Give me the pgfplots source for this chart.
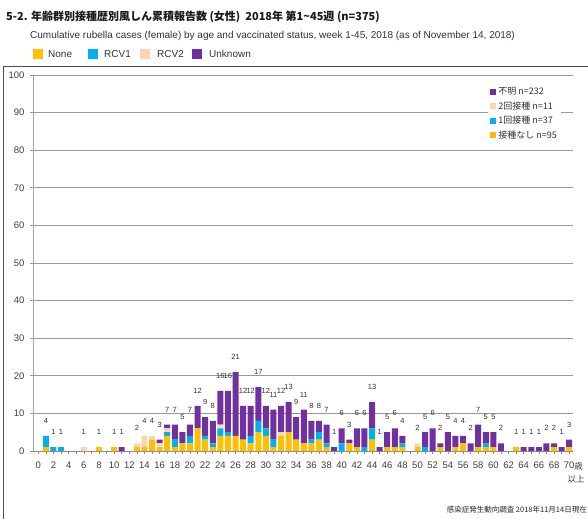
\documentclass[border=0pt]{standalone}
\usepackage{pgfplots}
\pgfplotsset{compat=1.18}
\usepackage{pgfplotstable}
\usepackage{fontspec}
\setmainfont{Liberation Sans}
\newfontfamily\jp{Noto Sans CJK JP}
\definecolor{cNone}{HTML}{FFC000}
\definecolor{cRa}{HTML}{00B0F0}
\definecolor{cRb}{HTML}{FCD5B5}
\definecolor{cUnk}{HTML}{7030A0}
\pgfplotstableread{
age none ra rb unk tot lab
0 0 0 0 0 0 {}
1 1 3 0 0 4 4
2 0 1 0 0 1 1
3 0 1 0 0 1 1
4 0 0 0 0 0 {}
5 0 0 0 0 0 {}
6 0 0 1 0 1 1
7 0 0 0 0 0 {}
8 1 0 0 0 1 1
9 0 0 0 0 0 {}
10 1 0 0 0 1 1
11 0 0 0 1 1 1
12 0 0 0 0 0 {}
13 1 0 1 0 2 2
14 1 0 3 0 4 4
15 3 0 1 0 4 4
16 1 0 1 1 3 3
17 4 1 1 1 7 7
18 1 2 0 4 7 7
19 2 0 0 3 5 5
20 2 2 0 3 7 7
21 6 0 0 6 12 12
22 3 1 0 5 9 9
23 1 1 0 6 8 8
24 4 2 1 9 16 16
25 4 1 0 11 16 16
26 4 0 0 17 21 21
27 3 0 0 9 12 12
28 2 2 0 8 12 12
29 5 3 0 9 17 17
30 4 2 0 6 12 12
31 1 2 0 8 11 11
32 4 0 1 7 12 12
33 5 0 0 8 13 13
34 3 0 0 6 9 9
35 2 0 0 9 11 11
36 2 1 0 5 8 8
37 3 2 0 3 8 8
38 1 1 0 5 7 7
39 0 0 0 1 1 1
40 0 2 0 4 6 6
41 2 0 0 1 3 3
42 1 0 0 5 6 6
43 0 1 0 5 6 6
44 3 3 0 7 13 13
45 0 0 0 1 1 1
46 1 0 0 4 5 5
47 1 0 0 5 6 6
48 1 1 0 2 4 4
49 0 0 0 0 0 {}
50 1 0 1 0 2 2
51 0 1 0 4 5 5
52 0 0 0 6 6 6
53 1 0 0 1 2 2
54 0 0 0 5 5 5
55 1 0 0 3 4 4
56 2 0 0 2 4 4
57 0 0 0 2 2 2
58 1 0 0 6 7 7
59 1 1 0 3 5 5
60 1 0 0 4 5 5
61 0 0 0 2 2 2
62 0 0 0 0 0 {}
63 1 0 0 0 1 1
64 0 0 0 1 1 1
65 0 0 0 1 1 1
66 0 0 0 1 1 1
67 0 0 0 2 2 2
68 1 0 0 1 2 2
69 0 0 0 1 1 1
70 1 0 0 2 3 3
}\datatable
\pgfplotsset{
  commonax/.style={
    at={(33bp,68bp)}, anchor=south west,
    width=540bp, height=376bp, scale only axis,
    xmin=-0.7, xmax=70.5, ymin=0, ymax=100,
  }
}
\begin{document}
\begin{tikzpicture}
\useasboundingbox (0,0) rectangle (588bp,519bp);
\clip (0,0) rectangle (588bp,519bp);
\fill[white] (0,0) rectangle (588bp,519bp);
\begin{scope}[x=1bp,y=1bp]
\node[anchor=west, inner sep=0pt, font=\jp\bfseries\fontsize{11bp}{13bp}\selectfont, text=black!90] at (6,502) {5-2. 年齢群別接種歴別風しん累積報告数 (女性)\ \ 2018年 第1\textasciitilde45週 (n=375)};
\node[anchor=west, inner sep=0pt, font=\fontsize{10bp}{12bp}\selectfont, text=black!80] at (30,483) {Cumulative rubella cases (female) by age and vaccinated status, week 1-45, 2018 (as of November 14, 2018)};
\fill[cNone] (33,460) rectangle (43,470);
\node[anchor=west, inner sep=0pt, font=\fontsize{10bp}{12bp}\selectfont, text=black!80] at (48,465) {None};
\fill[cRa] (88,460) rectangle (98,470);
\node[anchor=west, inner sep=0pt, font=\fontsize{10bp}{12bp}\selectfont, text=black!80] at (104,465) {RCV1};
\fill[cRb] (140,460) rectangle (150,470);
\node[anchor=west, inner sep=0pt, font=\fontsize{10bp}{12bp}\selectfont, text=black!80] at (157,465) {RCV2};
\fill[cUnk] (192,460) rectangle (202,470);
\node[anchor=west, inner sep=0pt, font=\fontsize{10bp}{12bp}\selectfont, text=black!80] at (209,465) {Unknown};
\draw[black!70, line width=1bp] (3,-10) rectangle (600,452);
\node[anchor=east, inner sep=0pt, font=\jp\fontsize{7.5bp}{9bp}\selectfont, text=black!85] at (587,9) {感染症発生動向調査 2018年11月14日現在};
\end{scope}
\begin{axis}[
  commonax,
  ybar stacked, bar width=6bp,
  clip=false,
  xtick={0,2,...,70}, minor xtick={0,...,70},
  ytick={0,10,...,100},
  ymajorgrids, grid style={draw=black!40, line width=0.9bp},
  axis x line*=bottom, axis y line*=left,
  x axis line style={draw=black!45, line width=0.9bp},
  y axis line style={draw=black!35, line width=0.9bp},
  tick align=outside,
  major tick length=3bp, minor tick length=3bp,
  xtick style={draw=black!45, line width=0.6bp},
  minor x tick style={draw=black!45, line width=0.6bp},
  ytick style={draw=black!40, line width=0.9bp},
  ticklabel style={font=\fontsize{9.5bp}{11bp}\selectfont, text=black!75},
  /pgf/number format/assume math mode=true,
  xticklabel style={yshift=-4bp},
  yticklabel style={xshift=-2bp},
  legend style={at={(0.843,0.978)}, anchor=north west, draw=none, fill=white,
    font=\jp\fontsize{9bp}{10bp}\selectfont, row sep=1.5bp, inner sep=2bp,
    cells={anchor=west}, text=black!80},
  legend image code/.code={\fill[#1] (0bp,-3bp) rectangle (6bp,3bp);},
  reverse legend,
]
\addplot[fill=cNone, draw=none] table[x=age,y=none]{\datatable};
\addlegendentry{接種なし n=95}
\addplot[fill=cRa, draw=none] table[x=age,y=ra]{\datatable};
\addlegendentry{1回接種 n=37}
\addplot[fill=cRb, draw=none] table[x=age,y=rb]{\datatable};
\addlegendentry{2回接種 n=11}
\addplot[fill=cUnk, draw=none] table[x=age,y=unk]{\datatable};
\addlegendentry{不明 n=232}
\node[anchor=west, inner sep=0pt, font=\jp\fontsize{8.5bp}{9bp}\selectfont, text=black!75] at (axis cs:70,0) [xshift=5bp, yshift=-15bp] {歳};
\node[inner sep=0pt, font=\jp\fontsize{8.5bp}{9bp}\selectfont, text=black!75] at (axis cs:70,0) [xshift=7bp, yshift=-28bp] {以上};
\end{axis}
\begin{axis}[
  commonax, hide axis, clip=false,
]
\addplot[draw=none, mark=none, nodes near coords, point meta=explicit symbolic,
  every node near coord/.append style={font=\fontsize{7.5bp}{9bp}\selectfont, text=black!80, yshift=9bp}]
  table[x=age,y=tot,meta=lab]{\datatable};
\end{axis}
\end{tikzpicture}
\end{document}
